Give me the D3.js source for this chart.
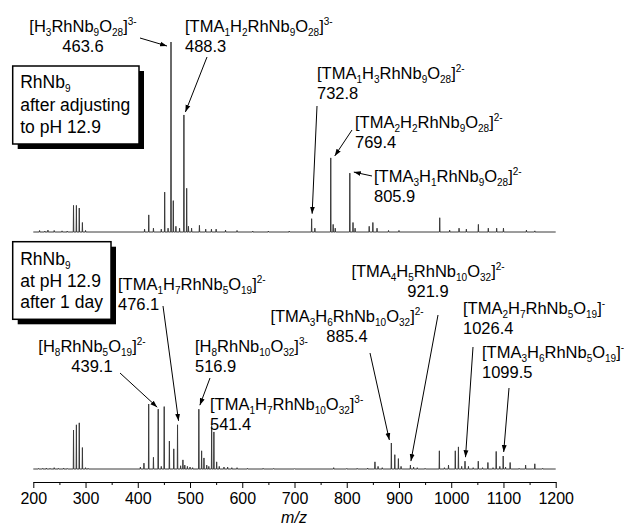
<!DOCTYPE html>
<html>
<head>
<meta charset="utf-8">
<script src="https://cdn.jsdelivr.net/npm/d3@7/dist/d3.min.js"></script>
<style>
  body { margin: 0; background: #fff; }
  svg { display: block; font-family: "Liberation Sans", Arial, sans-serif; }
</style>
</head>
<body>
<div class="canvas"></div>
<script>
// upper spectrum: after adjusting to pH 12.9 (relative intensity, %)
const upperMz  = [212, 222, 228, 240, 255, 265, 277, 282.5, 288, 294, 300,
                  413, 421, 430, 445, 451.5, 458, 463.6, 468, 473, 480, 488.3, 493.6, 497, 503, 518, 530, 541, 550, 568, 590, 620, 650, 690,
                  732.8, 739, 769.4, 774, 778, 805.9, 812, 816, 843, 850, 858, 880, 900,
                  978, 997, 1015, 1029, 1052, 1071, 1087, 1100, 1144, 1160];
const upperInt = [0.8, 0.5, 1, 0.8, 0.6, 0.5, 14, 14, 12.6, 5, 0.8,
                  1.5, 9, 2, 1.5, 21, 2, 100, 16.5, 3, 2, 61.6, 23, 3, 2, 3.5, 1.5, 1.5, 1.5, 1, 0.8, 0.5, 0.5, 0.5,
                  7, 2, 39, 4, 2, 31, 5, 2, 3, 5, 2, 0.8, 0.8,
                  7.5, 1, 2, 1.5, 4, 2, 2, 2, 1, 0.6];

// lower spectrum: at pH 12.9 after 1 day (relative intensity, %)
const lowerMz  = [210, 218, 225, 232, 240, 248, 258, 265, 277, 282.5, 288, 294, 300, 305,
                  405, 411.8, 420.9, 430, 439.1, 445, 450.6, 460.5, 468.9, 476.1, 482, 486.4, 490, 495, 500, 505,
                  516.9, 522.2, 526.7, 532, 536, 541.4, 545.7, 551, 556, 565, 572, 580, 590, 610, 640, 660, 700,
                  775, 800, 820, 840, 854, 860, 868, 885.4, 892, 898.9, 904, 921.9, 928, 935, 950,
                  977.3, 987, 994.8, 1007.8, 1013.8, 1020, 1026.4, 1033, 1042, 1051.8, 1060, 1070.2, 1080,
                  1086.1, 1093, 1099.5, 1104, 1112.8, 1130, 1142.4, 1160, 1175];
const lowerInt = [0.8, 1, 1.5, 1, 2, 1, 1.5, 0.8, 60, 68, 71, 33, 2, 1,
                  3, 9, 100, 18, 92, 4, 96, 43, 31, 68, 5, 14, 6, 4, 3, 2,
                  92, 28, 17, 6, 4, 67, 57, 11, 4, 3, 3, 2, 2, 1, 1, 0.8, 0.5,
                  2, 0.8, 1, 1.5, 11, 4, 2, 40, 22, 16, 4, 6, 3, 2, 1,
                  28, 2, 6, 28, 34, 4, 12, 4, 2, 12, 2, 10, 2,
                  27, 4, 20, 3, 10, 1, 6, 8, 1];

const majorTicks = [200, 300, 400, 500, 600, 700, 800, 900, 1000, 1100, 1200];
const minorTicks = [250, 350, 450, 550, 650, 750, 850, 950, 1050, 1150];
const xLabel = 'm/z';

// peak assignments: "_" = subscript, "^" = superscript
const annFormula = ['[H_3RhNb_9O_28]^3-', '[TMA_1H_2RhNb_9O_28]^3-', '[TMA_1H_3RhNb_9O_28]^2-',
                    '[TMA_2H_2RhNb_9O_28]^2-', '[TMA_3H_1RhNb_9O_28]^2-',
                    '[H_8RhNb_5O_19]^2-', '[TMA_1H_7RhNb_5O_19]^2-', '[H_8RhNb_10O_32]^3-',
                    '[TMA_1H_7RhNb_10O_32]^3-', '[TMA_3H_6RhNb_10O_32]^2-', '[TMA_4H_5RhNb_10O_32]^2-',
                    '[TMA_2H_7RhNb_5O_19]^-', '[TMA_3H_6RhNb_5O_19]^-'];
const annMz    = [463.6, 488.3, 732.8, 769.4, 805.9, 439.1, 476.1, 516.9, 541.4, 885.4, 921.9, 1026.4, 1099.5];
const annPanel = ['top', 'top', 'top', 'top', 'top',
                  'bottom', 'bottom', 'bottom', 'bottom', 'bottom', 'bottom', 'bottom', 'bottom'];

const boxTopLines = ['RhNb_9', 'after adjusting', 'to pH 12.9'];
const boxBottomLines = ['RhNb_9', 'at pH 12.9', 'after 1 day'];

// where labels sit and where their arrows start (layout only)
const annLayout = [
    { tx: 83,  ty: 31.5, anchor: 'middle', ax: 140, ay: 38,  dx: -4,  dy: 4 },
    { tx: 185, ty: 31.5, anchor: 'start',  ax: 207, ay: 57,  dx: 1.5, dy: -3 },
    { tx: 317, ty: 79,   anchor: 'start',  ax: 317, ay: 106, dx: 0.5, dy: -5 },
    { tx: 355, ty: 128,  anchor: 'start',  ax: 352, ay: 130, dx: 4,   dy: -2 },
    { tx: 374, ty: 182,  anchor: 'start',  ax: 372, ay: 176, dx: 4,   dy: -1 },
    { tx: 92,  ty: 351.7, anchor: 'middle', ax: 120, ay: 373, dx: -1, dy: -2 },
    { tx: 118, ty: 290,  anchor: 'start',  ax: 163, ay: 306, dx: 1,   dy: -4 },
    { tx: 195, ty: 351.7, anchor: 'start', ax: 210, ay: 378, dx: 1,   dy: -4 },
    { tx: 210, ty: 410,  anchor: 'start',  ax: null },
    { tx: 347, ty: 321.7, anchor: 'middle', ax: 370, ay: 353, dx: -2, dy: -3 },
    { tx: 428, ty: 277,  anchor: 'middle', ax: 438, ay: 315, dx: 0.5, dy: -4 },
    { tx: 463, ty: 314,  anchor: 'start',  ax: 473, ay: 347, dx: 0.5, dy: -4 },
    { tx: 482, ty: 358,  anchor: 'start',  ax: 509, ay: 388, dx: 0.5, dy: -4 }
];

const dims = { width: 624, height: 529 };

const svg = d3.select('.canvas').append('svg')
    .attr('width', dims.width)
    .attr('height', dims.height);

svg.append('defs').append('marker')
    .attr('id', 'head')
    .attr('markerUnits', 'userSpaceOnUse')
    .attr('viewBox', '0 0 10 10')
    .attr('refX', 10).attr('refY', 5)
    .attr('markerWidth', 7).attr('markerHeight', 7)
    .attr('orient', 'auto')
  .append('path')
    .attr('d', 'M0,1.5 L10,5 L0,8.5 Z')
    .attr('fill', '#000');

const x = d3.scaleLinear().domain([200, 1200]).range([33.3, 555.7]);
const yScales = {
    top: d3.scaleLinear().domain([0, 100]).range([232, 42]),
    bottom: d3.scaleLinear().domain([0, 100]).range([469, 404])
};

// stick spectrum drawn as one profile line
const profile = (mzs, ints) => {
    const peaks = mzs.map((m, i) => [m, ints[i]]).sort((a, b) => a[0] - b[0]);
    const pts = [[200, 0]];
    peaks.forEach(p => {
        pts.push([p[0] - 0.5, 0], [p[0], p[1]], [p[0] + 0.5, 0]);
    });
    pts.push([1200, 0]);
    return pts;
};

const drawSpectrum = (mzs, ints, y) => {
    const line = d3.line().x(d => x(d[0])).y(d => y(d[1]));
    svg.append('path')
        .datum(profile(mzs, ints))
        .attr('d', line)
        .attr('fill', 'none')
        .attr('stroke', '#3a3a3a')
        .attr('stroke-width', 1);
};

drawSpectrum(upperMz, upperInt, yScales.top);
drawSpectrum(lowerMz, lowerInt, yScales.bottom);

// text with sub/superscripts
const richText = (sel, str, size) => {
    const parts = str.match(/_[0-9]+|\^[^_^]+|[^_^]+/g);
    let shift = 0;
    parts.forEach(p => {
        let target = 0, fs = size, txt = p;
        if (p[0] === '_') { target = 4; fs = 10; txt = p.slice(1); }
        else if (p[0] === '^') { target = -7; fs = 10; txt = p.slice(1); }
        sel.append('tspan')
            .attr('dy', target - shift)
            .attr('font-size', fs)
            .text(txt);
        shift = target;
    });
};

// annotations
annFormula.forEach((f, i) => {
    const L = annLayout[i];
    const y = yScales[annPanel[i]];
    const t = svg.append('text')
        .attr('x', L.tx).attr('y', L.ty)
        .attr('text-anchor', L.anchor)
        .attr('fill', '#000');
    richText(t, f, 16.5);
    svg.append('text')
        .attr('x', L.tx).attr('y', L.ty + 20)
        .attr('text-anchor', L.anchor)
        .attr('font-size', 16.5)
        .attr('fill', '#000')
        .text(annMz[i].toFixed(1));

    if (L.ax !== null) {
        const k = annPanel[i] === 'top' ? upperMz.indexOf(annMz[i]) : lowerMz.indexOf(annMz[i]);
        const h = annPanel[i] === 'top' ? upperInt[k] : lowerInt[k];
        svg.append('line')
            .attr('x1', L.ax).attr('y1', L.ay)
            .attr('x2', x(annMz[i]) + L.dx)
            .attr('y2', y(h) + L.dy)
            .attr('stroke', '#000')
            .attr('stroke-width', 1)
            .attr('marker-end', 'url(#head)');
    }
});

// framed sample boxes with drop shadow
const drawBox = (bx, by, bw, bh, lines, baselines) => {
    svg.append('rect')
        .attr('x', bx + 5).attr('y', by + 5)
        .attr('width', bw).attr('height', bh)
        .attr('fill', '#000');
    svg.append('rect')
        .attr('x', bx).attr('y', by)
        .attr('width', bw).attr('height', bh)
        .attr('fill', '#fff')
        .attr('stroke', '#000')
        .attr('stroke-width', 1.5);
    lines.forEach((l, i) => {
        const t = svg.append('text')
            .attr('x', bx + 7.5).attr('y', baselines[i])
            .attr('fill', '#000');
        richText(t, l, 17.5);
    });
};

drawBox(12.7, 66, 126.3, 78, boxTopLines, [88, 111, 133]);
drawBox(12.7, 241.7, 98.3, 77.6, boxBottomLines, [265, 286.7, 308]);

// x axis
const axisG = svg.append('g').attr('transform', 'translate(0,482)');
axisG.call(d3.axisBottom(x)
    .tickValues(majorTicks)
    .tickSize(6)
    .tickSizeOuter(0)
    .tickPadding(5)
    .tickFormat(d3.format('d')));
axisG.append('g').call(d3.axisBottom(x)
    .tickValues(minorTicks)
    .tickSize(3)
    .tickSizeOuter(0)
    .tickFormat(''));
axisG.selectAll('text')
    .attr('font-family', '"Liberation Sans", Arial, sans-serif')
    .attr('font-size', 16)
    .attr('fill', '#000');
axisG.selectAll('path, line').attr('stroke', '#000').attr('stroke-width', 1);

svg.append('text')
    .attr('x', 294).attr('y', 523)
    .attr('text-anchor', 'middle')
    .attr('font-size', 16)
    .attr('font-style', 'italic')
    .text(xLabel);
</script>
</body>
</html>
